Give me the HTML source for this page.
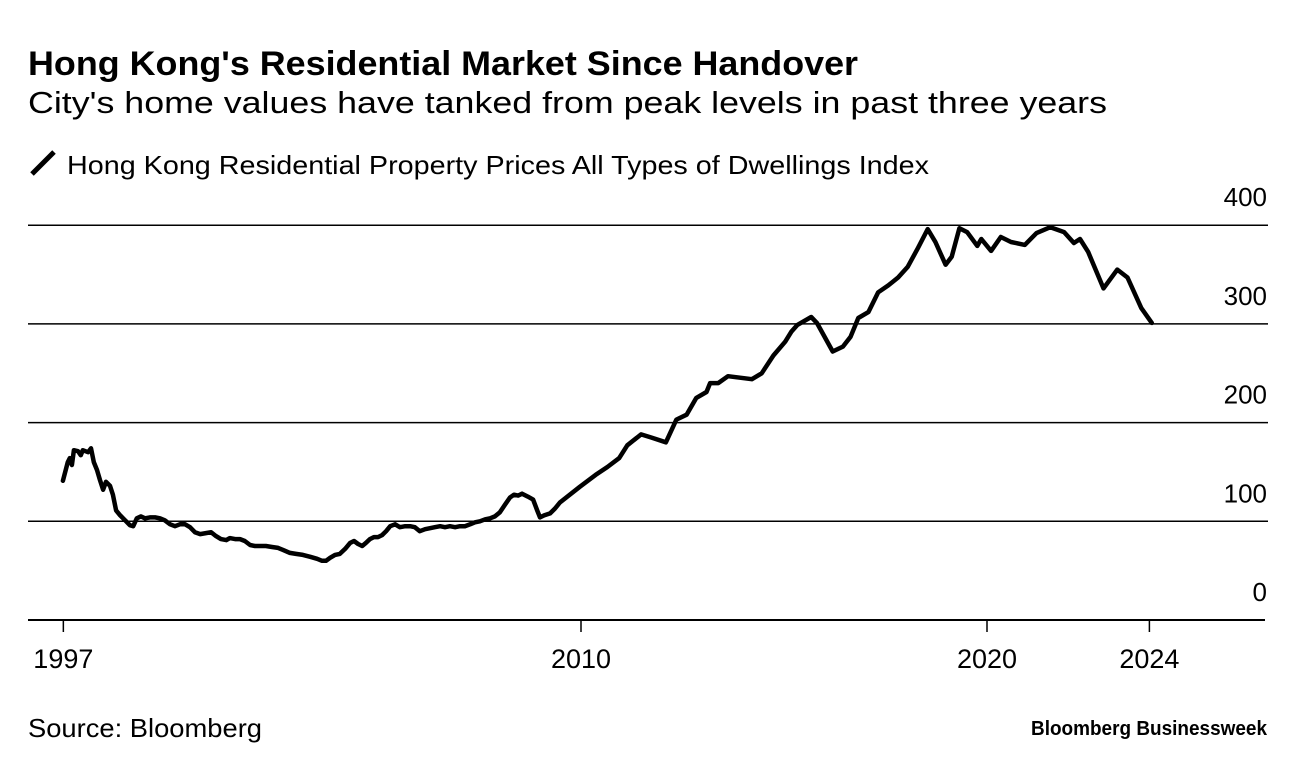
<!DOCTYPE html>
<html>
<head>
<meta charset="utf-8">
<style>
  html, body { margin: 0; padding: 0; background: #fff; }
  svg { display: block; font-family: "Liberation Sans", Arial, sans-serif; }
</style>
</head>
<body>
<svg id="chart" width="1296" height="770" viewBox="0 0 1296 770" xmlns="http://www.w3.org/2000/svg">
  <rect width="1296" height="770" fill="#fff"/>
  <text x="28" y="75" font-size="34" font-weight="bold" fill="#000" textLength="830" lengthAdjust="spacingAndGlyphs">Hong Kong's Residential Market Since Handover</text>
  <text x="28" y="113" font-size="31" fill="#000" textLength="1079" lengthAdjust="spacingAndGlyphs">City's home values have tanked from peak levels in past three years</text>
  <g>
    <line x1="32" y1="174" x2="54" y2="152" stroke="#000" stroke-width="5"/>
    <text x="67" y="174" font-size="26" fill="#000" textLength="862" lengthAdjust="spacingAndGlyphs">Hong Kong Residential Property Prices All Types of Dwellings Index</text>
  </g>
  <g id="grid"></g>
  <g id="yaxis"></g>
  <g id="xaxis"></g>
  <g id="series"></g>
  <text x="28" y="737" font-size="26" fill="#000" textLength="234" lengthAdjust="spacingAndGlyphs">Source: Bloomberg</text>
  <text x="1267" y="735" font-size="20" font-weight="bold" fill="#000" text-anchor="end" textLength="236" lengthAdjust="spacingAndGlyphs">Bloomberg Businessweek</text>
</svg>
<script>
const years = [1997.24,1997.36,1997.41,1997.46,1997.51,1997.61,1997.68,1997.73,1997.86,1997.93,1998.00,1998.08,1998.15,1998.23,1998.30,1998.40,1998.47,1998.55,1998.65,1998.77,1998.89,1998.97,1999.06,1999.16,1999.26,1999.38,1999.51,1999.63,1999.75,1999.88,2000.00,2000.12,2000.25,2000.37,2000.49,2000.62,2000.76,2000.89,2001.01,2001.13,2001.26,2001.35,2001.48,2001.60,2001.72,2001.85,2001.97,2002.09,2002.24,2002.39,2002.54,2002.66,2002.83,2002.98,2003.15,2003.33,2003.50,2003.62,2003.72,2003.82,2003.94,2004.06,2004.19,2004.31,2004.41,2004.51,2004.61,2004.70,2004.80,2004.90,2005.00,2005.10,2005.20,2005.30,2005.42,2005.54,2005.67,2005.79,2005.91,2006.03,2006.16,2006.28,2006.40,2006.53,2006.65,2006.77,2006.90,2007.02,2007.14,2007.27,2007.39,2007.51,2007.64,2007.76,2007.88,2008.00,2008.13,2008.25,2008.35,2008.45,2008.55,2008.69,2008.82,2008.92,2008.99,2009.09,2009.24,2009.36,2009.48,2009.97,2010.36,2010.65,2010.94,2011.14,2011.48,2011.72,2012.09,2012.35,2012.60,2012.84,2013.09,2013.18,2013.38,2013.62,2014.21,2014.45,2014.74,2015.03,2015.18,2015.33,2015.67,2015.81,2016.20,2016.45,2016.64,2016.83,2017.08,2017.32,2017.57,2017.81,2018.05,2018.30,2018.54,2018.73,2018.98,2019.13,2019.32,2019.51,2019.76,2019.86,2020.10,2020.34,2020.59,2020.93,2021.22,2021.56,2021.90,2022.14,2022.29,2022.49,2022.87,2023.21,2023.46,2023.80,2024.06];
const values = [141,160,164,157,172,171,167,172,170,174,160,152,142,132,140,136,127,111,106,101,96,95,103,105,103,104,104,103,101,97,95,97,97,94,89,87,88,89,85,82,81,83,82,82,80,76,75,75,75,74,73,71,68,67,66,64,62,60,60,63,66,67,72,78,80,77,75,78,82,84,84,86,90,95,97,94,95,95,94,90,92,93,94,95,94,95,94,95,95,97,99,100,102,103,105,109,117,124,127,126,128,125,122,111,104,106,108,113,119,135,147,155,164,177,188,185,180,203,208,225,231,240,240,247,244,250,268,282,292,299,307,301,272,277,287,306,312,332,339,347,358,377,396,383,360,368,397,393,379,386,374,388,383,380,392,398,393,382,386,373,336,355,347,316,301];
const yTicks = [0,100,200,300,400];
const yTickLabels = ["0","100","200","300","400"];
const xTicks = [1997.25,2010,2020,2024];
const xTickLabels = ["1997","2010","2020","2024"];

const NS = "http://www.w3.org/2000/svg";
function xScale(t){ return 581 + (t - 2010) * 40.6; }
function yScale(v){ return 620 - v * 0.987; }
function mk(tag, attrs, parent){
  const e = document.createElementNS(NS, tag);
  for (const k in attrs) e.setAttribute(k, attrs[k]);
  parent.appendChild(e);
  return e;
}
const grid = document.getElementById('grid');
const yaxis = document.getElementById('yaxis');
const xaxis = document.getElementById('xaxis');
const series = document.getElementById('series');

yTicks.forEach((v, i) => {
  const y = yScale(v);
  const ln = mk('line', {x1: 28, x2: v === 0 ? 1265 : 1268, y1: y, y2: y, stroke: '#000', 'stroke-width': v === 0 ? 2 : 1.5}, grid);
  
  
  const tx = mk('text', {x: 1267, y: y - 19, 'font-size': 26, 'text-anchor': 'end', fill: '#000'}, yaxis);
  tx.textContent = yTickLabels[i];
  
  
});

xTicks.forEach((t, i) => {
  const x = xScale(t);
  const tk = mk('line', {x1: x, x2: x, y1: 620, y2: 632, stroke: '#000', 'stroke-width': 1.5}, xaxis);
  
  
  const tx = mk('text', {x: x, y: 668, 'font-size': 27, 'text-anchor': 'middle', fill: '#000'}, xaxis);
  tx.textContent = xTickLabels[i];
  
  
});

let d = '';
years.forEach((t, i) => {
  d += (i ? 'L' : 'M') + xScale(t).toFixed(1) + ',' + yScale(values[i]).toFixed(1);
});
const path = mk('path', {d: d, fill: 'none', stroke: '#000', 'stroke-width': 4.5, 'stroke-linejoin': 'round', 'stroke-linecap': 'round'}, series);


</script>
</body>
</html>
